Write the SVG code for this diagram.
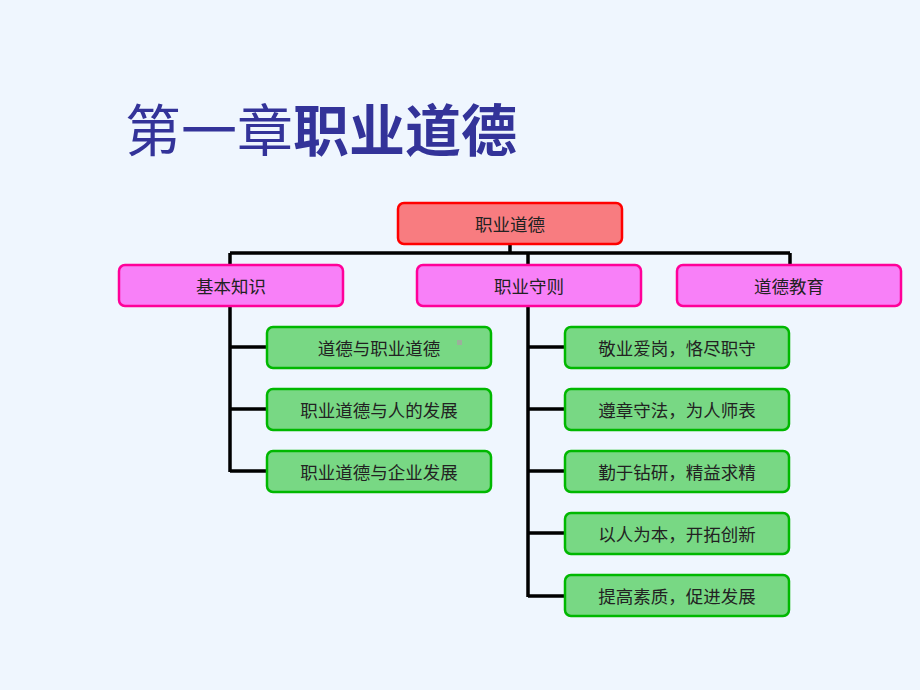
<svg xmlns="http://www.w3.org/2000/svg" width="920" height="690" viewBox="0 0 920 690">
<style>
.t{font-family:"Noto Sans CJK SC","Noto Sans CJK TC",sans-serif;font-size:17.5px;fill:#222;text-anchor:middle;dominant-baseline:central}
.top{fill:#F87C80;stroke:#FF0000;stroke-width:2.5}
.mid{fill:#F880F8;stroke:#FF0099;stroke-width:2.5}
.leaf{fill:#78D884;stroke:#00B800;stroke-width:2.5}
.ln{fill:none;stroke:#000;stroke-width:3.5}
</style>
<rect width="920" height="690" fill="#EFF6FE"/>
<text x="125" y="151" font-family="'Noto Sans CJK SC',sans-serif" font-size="56" fill="#333399"><tspan>第一章</tspan><tspan font-weight="bold">职业道德</tspan></text>
<g id="connectors">
<path class="ln" d="M510 244V253M230 253H790M230 253V265M528 253V265M790 253V265"/>
<path class="ln" d="M230 306V472M230 347H267M230 409H267M230 471H267"/>
<path class="ln" d="M528 306V597M528 347H565M528 409H565M528 471H565M528 533H565M528 596H565"/>
</g>
<g id="n0"><rect class="top" x="398" y="203" width="224" height="41" rx="6"/><text class="t" x="510" y="223">职业道德</text></g>
<g id="n1"><rect class="mid" x="119" y="265" width="224" height="41" rx="6"/><text class="t" x="231" y="285">基本知识</text></g>
<g id="n2"><rect class="mid" x="417" y="265" width="224" height="41" rx="6"/><text class="t" x="529" y="285">职业守则</text></g>
<g id="n3"><rect class="mid" x="677" y="265" width="224" height="41" rx="6"/><text class="t" x="789" y="285">道德教育</text></g>
<g id="n4"><rect class="leaf" x="267" y="327" width="224" height="41" rx="6"/><text class="t" x="379" y="347">道德与职业道德</text><rect x="457" y="340" width="5" height="5" fill="#9CB09C"/></g>
<g id="n5"><rect class="leaf" x="267" y="389" width="224" height="41" rx="6"/><text class="t" x="379" y="409">职业道德与人的发展</text></g>
<g id="n6"><rect class="leaf" x="267" y="451" width="224" height="41" rx="6"/><text class="t" x="379" y="471">职业道德与企业发展</text></g>
<g id="n7"><rect class="leaf" x="565" y="327" width="224" height="41" rx="6"/><text class="t" x="677" y="347">敬业爱岗，恪尽职守</text></g>
<g id="n8"><rect class="leaf" x="565" y="389" width="224" height="41" rx="6"/><text class="t" x="677" y="409">遵章守法，为人师表</text></g>
<g id="n9"><rect class="leaf" x="565" y="451" width="224" height="41" rx="6"/><text class="t" x="677" y="471">勤于钻研，精益求精</text></g>
<g id="n10"><rect class="leaf" x="565" y="513" width="224" height="41" rx="6"/><text class="t" x="677" y="533">以人为本，开拓创新</text></g>
<g id="n11"><rect class="leaf" x="565" y="575" width="224" height="41" rx="6"/><text class="t" x="677" y="595">提高素质，促进发展</text></g>
</svg>
